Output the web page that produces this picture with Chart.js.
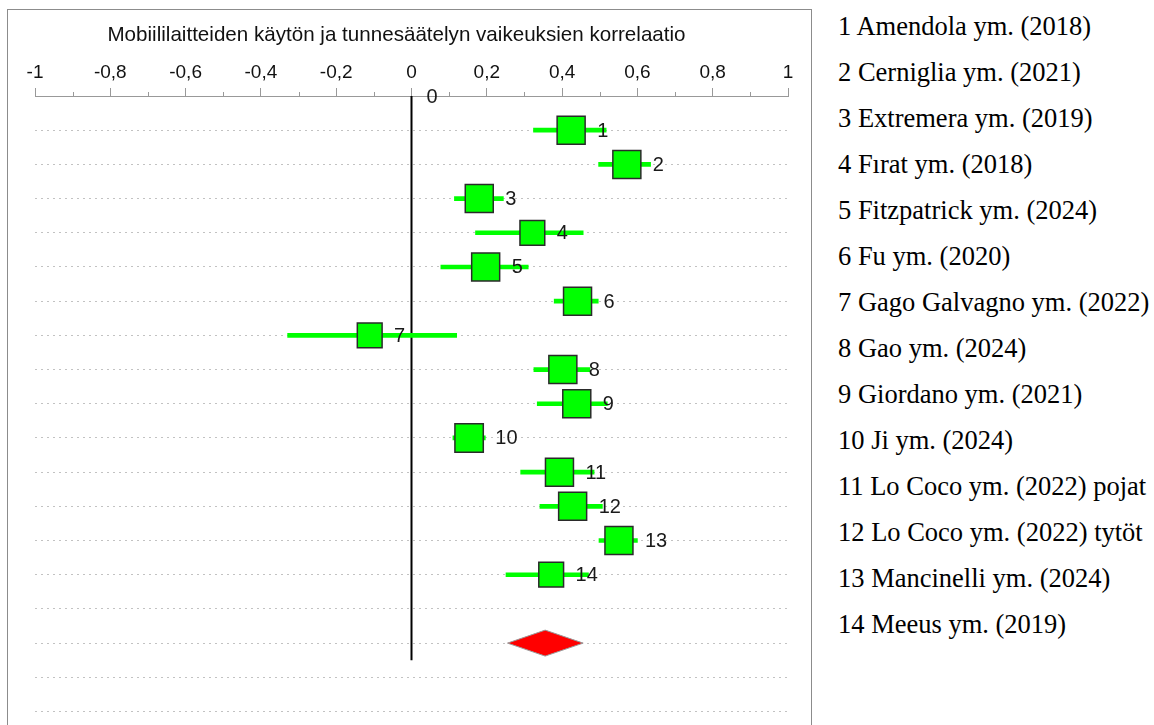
<!DOCTYPE html>
<html>
<head>
<meta charset="utf-8">
<script src="https://cdn.jsdelivr.net/npm/chart.js@4.4.1/dist/chart.umd.min.js"></script>
<style>
  html, body { margin: 0; padding: 0; background: #fff; overflow: hidden; }
  body { width: 1154px; height: 725px; position: relative; }
  #frame { position: absolute; left: 7px; top: 9px; width: 803px; height: 760px; border: 1px solid #8c8c8c; }
  #frame canvas { display: block; }
  #studyList {
    position: absolute; left: 838px; top: 3px; margin: 0; padding: 0; list-style: none;
    font-family: "Liberation Serif", "Times New Roman", serif; font-size: 26.5px; line-height: 46px;
    color: #000; white-space: nowrap;
  }
</style>
</head>
<body>
<div id="frame"><canvas id="forest" width="803" height="760"></canvas></div>
<ul id="studyList"></ul>
<script>
// Studies in plot order
const studies = [
  'Amendola ym. (2018)', 'Cerniglia ym. (2021)', 'Extremera ym. (2019)', 'Fırat ym. (2018)',
  'Fitzpatrick ym. (2024)', 'Fu ym. (2020)', 'Gago Galvagno ym. (2022)', 'Gao ym. (2024)',
  'Giordano ym. (2021)', 'Ji ym. (2024)', 'Lo Coco ym. (2022) pojat', 'Lo Coco ym. (2022) tytöt',
  'Mancinelli ym. (2024)', 'Meeus ym. (2019)'
];
// Correlation and 95 % confidence interval per study
const correlations = [0.424, 0.572, 0.180, 0.321, 0.197, 0.441, -0.111, 0.402, 0.439, 0.153, 0.393, 0.428, 0.551, 0.371];
const ciLower      = [0.324, 0.497, 0.114, 0.170, 0.078, 0.379, -0.329, 0.325, 0.334, 0.110, 0.290, 0.341, 0.498, 0.251];
const ciUpper      = [0.517, 0.635, 0.244, 0.456, 0.310, 0.496, 0.120, 0.474, 0.520, 0.196, 0.485, 0.507, 0.600, 0.470];
// Relative study weights (%)
const weights      = [7.4, 7.4, 7.4, 5.8, 7.4, 7.4, 5.8, 7.4, 7.4, 7.6, 7.4, 7.4, 7.4, 5.8];
// Pooled estimate
const pooledEstimate = 0.355;
const pooledLower = 0.255;
const pooledUpper = 0.456;
// Axis
const tickValues = [-1, -0.8, -0.6, -0.4, -0.2, 0, 0.2, 0.4, 0.6, 0.8, 1];
const tickLabels = ['-1', '-0,8', '-0,6', '-0,4', '-0,2', '0', '0,2', '0,4', '0,6', '0,8', '1'];
const axisTitle = 'Mobiililaitteiden käytön ja tunnesäätelyn vaikeuksien korrelaatio';
const referenceValue = 0;

const pooledRow = studies.length + 2;
const gridRows = Array.from({ length: 20 }, (_, i) => i);
const sansFont = '"Liberation Sans", Arial, sans-serif';

// study list beside the plot
const list = document.getElementById('studyList');
studies.forEach((name, i) => {
  const li = document.createElement('li');
  li.textContent = (i + 1) + ' ' + name;
  list.appendChild(li);
});

function squareSide(w) { return 28 * Math.sqrt(w / 7.4); }

const forestDecor = {
  id: 'forestDecor',
  beforeDatasetsDraw(chart) {
    const { ctx, scales: { x, y } } = chart;
    const x0 = x.getPixelForValue(referenceValue);
    ctx.save();
    ctx.strokeStyle = '#000';
    ctx.lineWidth = 2;
    ctx.beginPath();
    ctx.moveTo(x0, y.getPixelForValue(0));
    ctx.lineTo(x0, y.getPixelForValue(pooledRow + 0.5));
    ctx.stroke();
    ctx.restore();
  },
  afterDatasetsDraw(chart) {
    const { ctx, scales: { x, y }, chartArea } = chart;
    ctx.save();
    // pooled diamond
    const yc = y.getPixelForValue(pooledRow);
    ctx.beginPath();
    ctx.moveTo(x.getPixelForValue(pooledLower), yc);
    ctx.lineTo(x.getPixelForValue(pooledEstimate), yc - 13);
    ctx.lineTo(x.getPixelForValue(pooledUpper), yc);
    ctx.lineTo(x.getPixelForValue(pooledEstimate), yc + 13);
    ctx.closePath();
    ctx.fillStyle = '#ff0000';
    ctx.fill();
    ctx.strokeStyle = '#9a9a9a';
    ctx.lineWidth = 1;
    ctx.stroke();

    // study numbers next to the squares
    const meta = chart.getDatasetMeta(1);
    ctx.font = '20px ' + sansFont;
    ctx.fillStyle = '#1a1a1a';
    ctx.textAlign = 'left';
    ctx.textBaseline = 'middle';
    meta.data.forEach((pt, i) => {
      ctx.fillText(String(i + 1), pt.x + squareSide(weights[i]) / 2 + 12, pt.y + 1);
    });

    // reference line label
    ctx.fillText(String(referenceValue), x.getPixelForValue(referenceValue) + 15, chartArea.top + 1);
    ctx.restore();
  },
  afterDraw(chart) {
    const { ctx, scales: { x }, chartArea } = chart;
    ctx.save();
    // minor tick marks halfway between labelled ticks
    ctx.strokeStyle = '#999';
    ctx.lineWidth = 1;
    for (let i = 0; i < tickValues.length - 1; i++) {
      const px = Math.round(x.getPixelForValue((tickValues[i] + tickValues[i + 1]) / 2)) + 0.5;
      ctx.beginPath();
      ctx.moveTo(px, chartArea.top);
      ctx.lineTo(px, chartArea.top - 4);
      ctx.stroke();
    }
    // axis title
    ctx.font = '20.6px ' + sansFont;
    ctx.fillStyle = '#111';
    ctx.textAlign = 'center';
    ctx.textBaseline = 'middle';
    ctx.fillText(axisTitle, (chartArea.left + chartArea.right) / 2 - 15, 25);
    ctx.restore();
  }
};

new Chart(document.getElementById('forest'), {
  type: 'scatter',
  data: {
    datasets: [
      {
        type: 'bar',
        indexAxis: 'y',
        data: studies.map((s, i) => ({ y: i + 1, x: [ciLower[i], ciUpper[i]] })),
        backgroundColor: '#00ff00',
        borderWidth: 0,
        barThickness: 4,
        order: 2
      },
      {
        type: 'scatter',
        data: studies.map((s, i) => ({ x: correlations[i], y: i + 1 })),
        pointStyle: 'rect',
        pointRadius: ctx => squareSide(weights[ctx.dataIndex]) / Math.SQRT2,
        pointHoverRadius: ctx => squareSide(weights[ctx.dataIndex]) / Math.SQRT2,
        backgroundColor: '#00ff00',
        borderColor: '#2a2a2a',
        borderWidth: 1.5,
        order: 1
      }
    ]
  },
  options: {
    responsive: false,
    animation: false,
    events: [],
    layout: { padding: { left: 27, right: 23, top: 0, bottom: 0 } },
    plugins: { legend: { display: false }, tooltip: { enabled: false }, title: { display: false } },
    scales: {
      x: {
        type: 'linear',
        position: 'top',
        min: -1,
        max: 1,
        offset: false,
        afterBuildTicks: scale => { scale.ticks = tickValues.map(v => ({ value: v })); },
        afterFit: scale => { scale.height = 86; },
        ticks: {
          callback: (v, i) => tickLabels[i],
          font: { family: sansFont, size: 19 },
          color: '#111',
          padding: 4,
          maxRotation: 0,
          autoSkip: false
        },
        grid: { drawOnChartArea: false, offset: false, tickLength: 8, color: '#999', tickWidth: 1 },
        border: { color: '#999', width: 1 }
      },
      y: {
        type: 'linear',
        min: 0,
        max: 19.08,
        reverse: true,
        offset: false,
        afterBuildTicks: scale => { scale.ticks = gridRows.map(v => ({ value: v })); },
        ticks: { display: false },
        grid: {
          offset: false,
          drawTicks: false,
          lineWidth: 1,
          color: ctx => (ctx.tick && ctx.tick.value === 0) ? 'rgba(0,0,0,0)' : '#c2c2c2'
        },
        border: { display: false, dash: [2, 4] }
      }
    }
  },
  plugins: [forestDecor]
});
</script>
</body>
</html>
